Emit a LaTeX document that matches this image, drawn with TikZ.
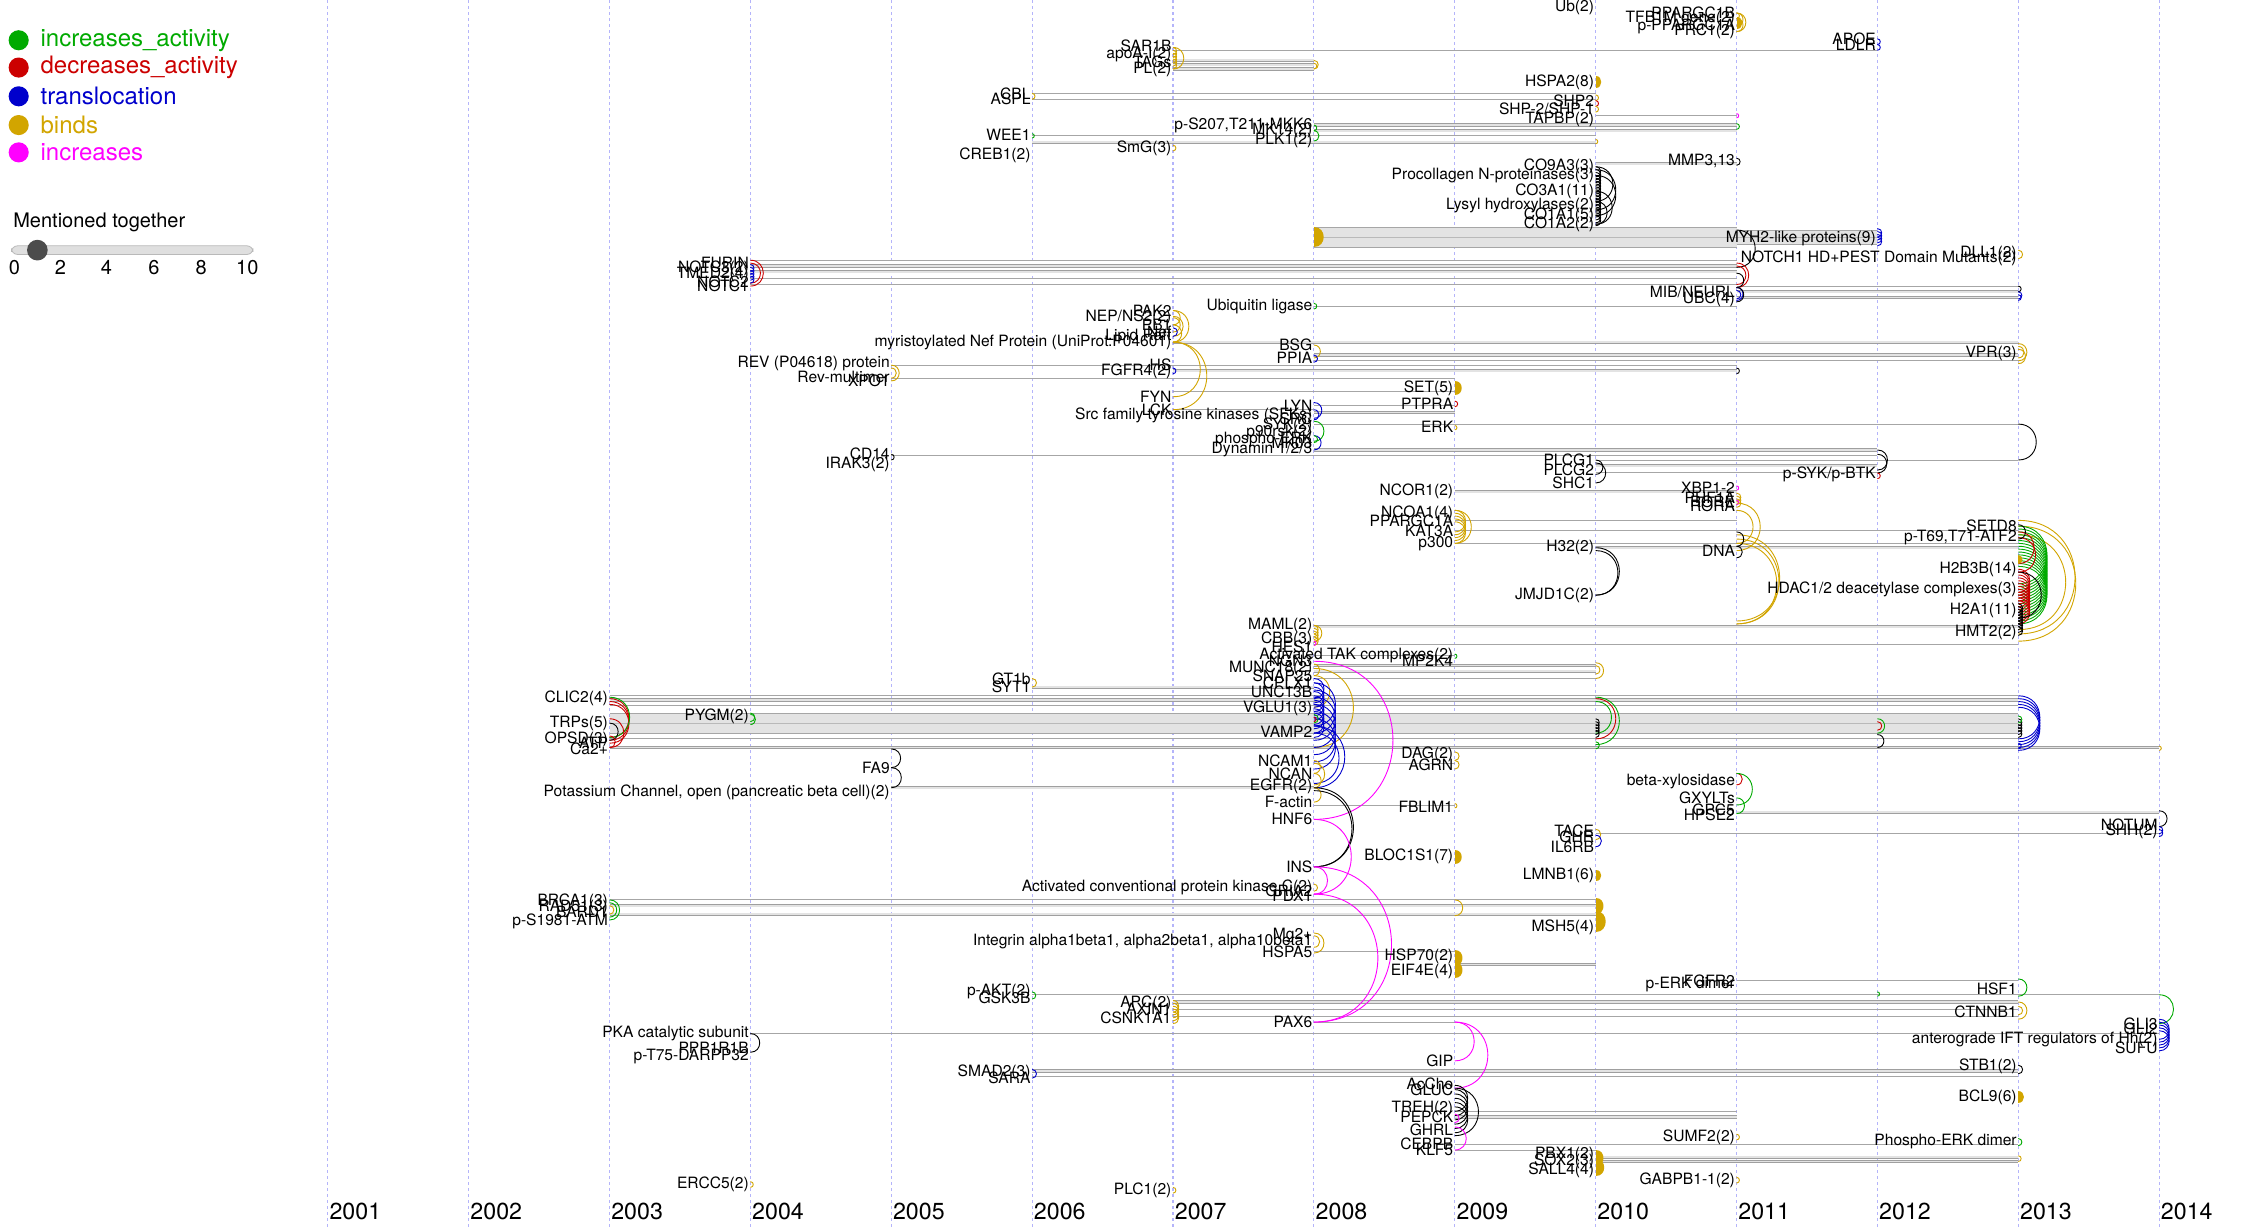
\documentclass[tikz,border=0pt]{standalone}
\usepackage{fontspec}
\setmainfont{TeX Gyre Heros}
\definecolor{cgreen}{RGB}{0,170,0}
\definecolor{cred}{RGB}{204,0,0}
\definecolor{cblue}{RGB}{0,0,204}
\definecolor{cgold}{RGB}{210,165,0}
\definecolor{cmag}{RGB}{255,0,255}
\definecolor{gridc}{RGB}{180,180,250}
\newcounter{nd}
\newcommand\Lb[3]{\stepcounter{nd}\node[lbl] (n\arabic{nd}) at (#1,#2) {#3};}
\newcommand\Ln[3]{\draw[hl] (#1,#3) -- (#2,#3);}
\newcommand\Lt[3]{\draw[tl] (#1,#3) -- (#2,#3);}
\newcommand\Band[4]{\fill[gray!22] (#1,#3) rectangle (#2,#4);
  \foreach \yy in {#3,#4} {\draw[tl] (#1,\yy) -- (#2,\yy);}
  \pgfmathsetmacro\ym{(#3+#4)/2}\draw[tl,gray!55] (#1,\ym) -- (#2,\ym);}
\newcommand\Ar[4]{\pgfmathsetmacro\kk{0.6667*abs((#4)-(#3))}\draw[arcst,#1] (#2,#3) .. controls +(\kk,0) and +(\kk,0) .. (#2,#4);}
\newcommand\Af[4]{\pgfmathsetmacro\kk{0.6667*abs((#4)-(#3))}\fill[#1] (#2,#3) .. controls +(\kk,0) and +(\kk,0) .. (#2,#4) -- cycle;}
\begin{document}
\begin{tikzpicture}[x=0.71875pt,y=-0.71875pt,
  lbl/.style={anchor=east,inner sep=0.6pt,font=\fontsize{7.8}{8}\selectfont},
  hl/.style={draw=gray!75,double=gray!22,double distance=0.9pt,line width=0.35pt},
  tl/.style={draw=gray!70,line width=0.45pt},
  arcst/.style={line width=0.45pt},
  gridl/.style={gridc,line width=0.6pt,dash pattern=on 1.4pt off 1.6pt},
  yearl/.style={anchor=west,inner sep=0pt,font=\fontsize{11.6}{12}\selectfont},
  legt/.style={anchor=west,inner sep=0pt,font=\fontsize{12}{12}\selectfont}]
\fill[white] (0,0) rectangle (1568,854);
\useasboundingbox (0,0) rectangle (1568,854);
% grid and years
\foreach \yr [count=\i from 0] in {2001,...,2014} {
  \pgfmathsetmacro\gx{228+98*\i}
  \draw[gridl] (\gx,0) -- (\gx,854);
  \node[yearl] (y\yr) at (\gx+1,843) {\yr};
}
% legend
\foreach \c/\t/\yy [count=\i] in {cgreen/increases\_activity/28,cred/decreases\_activity/47,cblue/translocation/67,cgold/binds/87,cmag/increases/106} {
  \fill[\c] (13,\yy) circle (7);
  \node[legt,text=\c] (lg\i) at (28,\yy) {\t};
}
\node[anchor=west,inner sep=0pt,font=\fontsize{10}{10}\selectfont] (mt) at (9,155) {Mentioned together};
\draw[gray!55,fill=gray!25,rounded corners=3] (8,171) rectangle (176,177);
\fill[gray!60!black] (26,174) circle (7.2);
\foreach \v/\xx in {0/10,2/42,4/74,6/107,8/140,10/172}
  \node[font=\fontsize{10}{10}\selectfont,inner sep=0pt] (sl\v) at (\xx,186) {\v};

% ---------- horizontal lines ----------
\Lt{816}{1306}{35}
\Ln{816}{914}{42}\Ln{816}{914}{45}\Ln{816}{914}{48}
\Lt{718}{1110}{65}\Lt{718}{1110}{69}
\Lt{1110}{1208}{80}
\Ln{914}{1208}{87}\Ln{914}{1208}{91}
\Lt{718}{1110}{94}\Ln{718}{1110}{99}
\Ln{1110}{1208}{114}
\Band{914}{1208}{158}{172}\Band{1208}{1306}{160}{170}
\Lt{522}{1208}{181}\Ln{522}{1208}{185}\Ln{522}{1208}{189}\Lt{522}{1208}{194}\Lt{522}{1208}{198}
\Lt{1208}{1404}{199}\Ln{1208}{1404}{203}\Ln{1208}{1404}{207}
\Lt{914}{1208}{213}
\Ln{816}{1404}{238}\Ln{914}{1404}{247}\Lt{914}{1404}{251}
\Lt{620}{1208}{254}\Ln{816}{1208}{258}\Lt{620}{1012}{263}
\Lt{816}{1012}{272}\Lt{816}{914}{285}\Lt{914}{1012}{282}\Ln{914}{1012}{287}
\Lt{914}{1404}{295}
\Ln{914}{1306}{313}\Lt{620}{1306}{317}\Lt{1110}{1404}{320}
\Ln{1110}{1306}{324}\Lt{1110}{1306}{329}
\Ln{1012}{1208}{342}\Lt{1012}{1208}{362}\Lt{1012}{1404}{369}\Lt{1012}{1404}{378}\Ln{1110}{1404}{381}
\Ln{914}{1404}{436}\Lt{914}{1404}{448}
\Lt{914}{1012}{456}\Ln{914}{1110}{463}\Ln{914}{1110}{467}\Lt{914}{1110}{472}
\Ln{718}{914}{478}
\Lt{424}{1404}{484}\Ln{424}{1404}{487}\Lt{424}{1404}{491}
\Band{424}{1404}{496}{510}
\Lt{424}{1404}{514}\Ln{424}{1502}{520}
\Lt{914}{1012}{531}
\Ln{620}{914}{548}
\Lt{914}{1012}{560}
\Ln{1208}{1502}{565}
\Lt{1110}{1502}{580}
\Lt{424}{1110}{626}\Ln{424}{1110}{630}\Ln{424}{1110}{636}
\Lt{914}{1012}{662}\Ln{1012}{1110}{671}
\Lt{1208}{1404}{682}
\Lt{718}{1502}{692}\Ln{816}{1404}{697}\Lt{816}{1404}{702}\Lt{816}{1404}{707}
\Lt{914}{1012}{711}\Lt{522}{1502}{719}
\Ln{718}{1404}{745}\Lt{718}{1404}{749}
\Lt{1012}{1208}{773}\Ln{1012}{1208}{777}
\Lt{1012}{1404}{796}\Lt{1012}{1110}{800}
\Ln{1110}{1404}{805}\Ln{1110}{1404}{808}

% ---------- arcs ----------
% top
\Ar{cgold}{1208}{9}{13}\Ar{cgold}{1208}{9}{18}\Ar{cgold}{1208}{13}{22}\Ar{cgold}{1208}{9}{22}\Af{cgold}{1208}{12}{20}
\Ar{cblue}{1306}{27}{31}\Ar{cblue}{1306}{31}{35}
\foreach \a in {33,35,...,43} {\Ar{cgold}{816}{\a}{\a+5}}
\Ar{cgold}{816}{33}{48}
\Ar{cgold}{914}{42}{48}\Ar{cgold}{914}{44}{48}
\Af{cgold}{1110}{53}{61}
\Ar{cgold}{1110}{66}{70}\Ar{cred}{1110}{70}{74}\Ar{cgold}{1110}{74}{78}
\Ar{cgold}{718}{65}{69}
\Ar{cgreen}{914}{87}{91}\Ar{cgreen}{914}{91}{98}
\Ar{cmag}{1208}{79}{82}\Ar{cgreen}{1208}{86}{90}
\Ar{cgold}{1110}{97}{100}
\Ar{cgreen}{718}{93}{96}
\Ar{cgold}{816}{101}{105}
\Ar{black}{1208}{110}{115}
\foreach \a in {116,118,...,150} {\Ar{black}{1110}{\a}{\a+7}}
\Ar{black}{1110}{116}{140}\Ar{black}{1110}{118}{146}\Ar{black}{1110}{122}{150}\Ar{black}{1110}{133}{156}\Ar{black}{1110}{140}{156}
\Af{cgold}{914}{158}{172}
\foreach \a in {159,161,...,165} {\Ar{cblue}{1306}{\a}{\a+6}}
\Ar{black}{1208}{160}{186}
\Ar{cgold}{1404}{174}{180}
\Ar{cred}{522}{181}{199}\Ar{cred}{522}{183}{197}
\foreach \a in {184,186,...,192} {\Ar{cblue}{522}{\a}{\a+5}}
\Ar{cred}{1208}{183}{200}\Ar{cred}{1208}{185}{198}\Ar{black}{1208}{190}{200}
\Ar{black}{1404}{199}{203}\Ar{cblue}{1404}{203}{208}\Ar{cblue}{1404}{205}{209}
\Ar{cblue}{1208}{200}{209}\Ar{cblue}{1208}{202}{208}\Ar{black}{1208}{200}{210}
\Ar{cgreen}{914}{211}{215}
% Nef cluster
\Ar{cgold}{816}{216}{238}\Ar{cgold}{816}{220}{234}\Ar{cgold}{816}{226}{238}\Ar{cgold}{816}{216}{226}\Ar{cgold}{816}{221}{231}
\Ar{cblue}{816}{228}{234}
\Ar{cgold}{816}{238}{276}\Ar{cgold}{816}{238}{285}
\Ar{cgold}{914}{240}{249}\Ar{cblue}{914}{247}{252}
\Ar{cgold}{1404}{239}{251}\Ar{cgold}{1404}{241}{249}\Ar{cgold}{1404}{243}{253}
\Ar{cgold}{620}{254}{265}\Ar{cgold}{620}{256}{263}
\Ar{cblue}{816}{256}{260}
\Ar{black}{1208}{256}{260}
\Af{cgold}{1012}{265}{275}\Ar{cred}{1012}{279}{283}
\Ar{cblue}{914}{280}{291}\Ar{cblue}{914}{285}{292}\Ar{cgreen}{914}{293}{307}\Ar{cblue}{914}{303}{313}\Ar{cgreen}{914}{303}{308}
\Ar{cgold}{1012}{296}{299}
\Ar{black}{1404}{295}{320}
\Ar{black}{620}{316}{320}
\Ar{black}{1306}{313}{327}\Ar{black}{1306}{316}{329}\Ar{cred}{1306}{329}{333}
\Ar{black}{1110}{320}{330}\Ar{black}{1110}{322}{336}
% ~2011 nuclear receptor / DNA
\Ar{cmag}{1208}{338}{341}
\foreach \a in {343,345,347} {\Ar{cgold}{1208}{\a}{\a+6}}
\Ar{cmag}{1208}{348}{351}
\foreach \a in {355,357,...,363} {\Ar{cgold}{1012}{\a}{\a+15}}
\Ar{cgold}{1012}{355}{378}
\Ar{cgold}{1208}{350}{383}\Ar{cgold}{1208}{355}{378}
\Ar{cgold}{1208}{375}{434}\Ar{cgold}{1208}{378}{434}\Ar{cgold}{1208}{372}{432}
\Ar{black}{1208}{370}{380}\Ar{black}{1208}{380}{388}
\Ar{black}{1110}{381}{414}\Ar{black}{1110}{383}{414}
% 2013 histone cluster
\Ar{cgold}{1404}{362}{441}\Ar{cgold}{1404}{366}{446}\Ar{cgold}{1404}{372}{438}
\foreach \a in {366,368,...,394} {\Ar{cgreen}{1404}{\a}{\a+40}}
\foreach \a in {396,398,...,418} {\Ar{cred}{1404}{\a}{\a+16}}
\Ar{cred}{1404}{370}{392}\Ar{cred}{1404}{374}{398}
\Ar{black}{1404}{365}{375}\Ar{black}{1404}{398}{430}
\foreach \a in {420,422,...,436} {\Ar{black}{1404}{\a}{\a+6}}
\Af{cgold}{1404}{386}{392}
% 2008 synapse cluster
\foreach \a in {435,437,...,443} {\Ar{cgold}{914}{\a}{\a+6}}
\Ar{cgold}{914}{435}{446}
\Ar{cmag}{914}{446}{449}
\Ar{cgreen}{1012}{455}{458}
\Ar{cgold}{914}{462}{470}\Ar{cgold}{914}{465}{520}\Ar{cgold}{914}{470}{492}
\Ar{cgold}{1110}{461}{472}\Ar{cgold}{1110}{463}{469}
\foreach \a in {472,475,...,499} {\Ar{cblue}{914}{\a}{\a+14}}
\foreach \a in {475,480,...,505} {\Ar{cblue}{914}{\a}{\a+30}}
\Ar{cblue}{914}{505}{548}\Ar{cblue}{914}{510}{545}
\Ar{cgreen}{914}{497}{503}\Ar{cred}{914}{499}{502}
\Ar{cgold}{914}{529}{538}\Ar{cgold}{914}{538}{548}\Ar{cgold}{914}{548}{558}\Ar{cgold}{914}{531}{546}
\Ar{cmag}{914}{460}{570}
\Ar{black}{914}{548}{603}\Ar{black}{914}{550}{603}
\Ar{cmag}{914}{570}{622}\Ar{cmag}{914}{603}{622}\Ar{cmag}{914}{603}{711}\Ar{cmag}{914}{622}{711}
\Ar{cgold}{914}{615}{620}
% 2003-2005 middle
\foreach \a in {486,488,490} {\Ar{cred}{424}{\a}{\a+27}}
\Ar{cgreen}{424}{485}{513}\Ar{cred}{424}{500}{520}\Ar{black}{424}{503}{515}\Ar{cred}{424}{512}{520}
\Ar{cgreen}{522}{496}{502}\Ar{cgreen}{522}{497}{504}
\Ar{cgold}{718}{472}{478}
\Ar{black}{620}{521}{534}\Ar{black}{620}{534}{548}
\Ar{cgreen}{424}{626}{640}\Ar{cgreen}{424}{628}{638}\Ar{cgold}{424}{630}{636}
% CLIC band ends
\Ar{cgreen}{1110}{485}{518}\Ar{cred}{1110}{486}{514}\Ar{cgreen}{1110}{488}{510}
\foreach \a in {500,502,...,508} {\Ar{black}{1110}{\a}{\a+5}}
\Ar{cgreen}{1110}{516}{521}
\Ar{cgreen}{1306}{500}{510}\Ar{cred}{1306}{502}{508}\Ar{black}{1306}{511}{520}
\foreach \a in {484,486,...,492} {\Ar{cblue}{1404}{\a}{\a+30}}
\foreach \a in {500,502,...,508} {\Ar{black}{1404}{\a}{\a+5}}
\Ar{cgreen}{1404}{498}{503}\Ar{cblue}{1404}{517}{521}
\Ar{cgold}{1502}{519}{522}
% 2009-2011 middle
\Ar{cgold}{1012}{523}{529}\Ar{cgold}{1012}{529}{535}
\Ar{cgold}{1012}{559}{562}
\Af{cgold}{1012}{591}{601}
\Ar{cred}{1208}{538}{546}\Ar{cgreen}{1208}{538}{560}\Ar{cgreen}{1208}{555}{566}
\Ar{cgold}{1110}{577}{584}\Ar{cblue}{1110}{581}{589}
\Ar{black}{1502}{564}{575}\Ar{cblue}{1502}{575}{580}\Ar{cblue}{1502}{577}{582}
\Af{cgold}{1110}{605}{613}
\Af{cgold}{1110}{625}{636}\Af{cgold}{1110}{634}{648}
\Ar{cgold}{1012}{626}{637}
\Ar{cgold}{914}{649}{663}\Ar{cgold}{914}{651}{659}
\Af{cgold}{1012}{661}{672}\Af{cgold}{1012}{669}{680}
% lower right
\Ar{cgreen}{1306}{690}{693}
\Ar{cgreen}{1404}{681}{693}
\Ar{cgreen}{1502}{692}{712}
\Ar{cgold}{1404}{697}{709}\Ar{cgold}{1404}{700}{706}
\foreach \a in {709,711,...,717} {\Ar{cblue}{1502}{\a}{\a+14}}
\foreach \a in {696,698,...,704} {\Ar{cgold}{816}{\a}{\a+8}}
\Ar{cgreen}{718}{690}{695}
\Ar{black}{522}{719}{732}
\Ar{cmag}{1012}{711}{738}\Ar{cmag}{1012}{711}{757}
\Ar{cblue}{718}{744}{750}
\Ar{black}{1404}{741}{747}
\Af{cgold}{1404}{759}{767}
\foreach \a in {755,758,...,770} {\Ar{black}{1012}{\a}{\a+18}}
\Ar{black}{1012}{757}{790}
\Ar{cmag}{1012}{775}{781}\Ar{cmag}{1012}{784}{800}
\Ar{cgold}{1208}{789}{793}\Ar{cgold}{1208}{819}{823}
\Af{cgold}{1110}{800}{811}\Af{cgold}{1110}{806}{818}
\Ar{cgreen}{1404}{792}{797}
\Ar{cgold}{1404}{804}{808}
\Ar{cgold}{522}{822}{826}\Ar{cgold}{816}{826}{830}

% ---------- labels ----------
% 2003
\Lb{424}{486}{CLIC2(4)}\Lb{424}{503}{TRPs(5)}\Lb{424}{514}{OPSD(3)}\Lb{424}{517}{ATP}\Lb{424}{521}{Ca2+}
\Lb{424}{627}{BRCA1(3)}\Lb{424}{631}{RAD51(3)}\Lb{424}{634}{BARD1}\Lb{424}{641}{p-S1981-ATM}
% 2004
\Lb{522}{183}{FURIN}\Lb{522}{187}{NOTC3(2)}\Lb{522}{191}{TMED2(4)}\Lb{522}{196}{NOTC2}\Lb{522}{199}{NOTC1}
\Lb{522}{498}{PYGM(2)}
\Lb{522}{719}{PKA catalytic subunit}\Lb{522}{729}{PPP1R1B}\Lb{522}{735}{p-T75-DARPP32}
\Lb{522}{824}{ERCC5(2)}
% 2005
\Lb{620}{253}{REV (P04618) protein}\Lb{620}{262}{Rev-multimer}\Lb{620}{265}{XPO1}
\Lb{620}{316}{CD14}\Lb{620}{323}{IRAK3(2)}
\Lb{620}{534}{FA9}\Lb{620}{551}{Potassium Channel, open (pancreatic beta cell)(2)}
% 2006
\Lb{718}{65}{CBL}\Lb{718}{69}{ASPL}\Lb{718}{94}{WEE1}\Lb{718}{108}{CREB1(2)}
\Lb{718}{472}{GT1b}\Lb{718}{478}{SYT1}
\Lb{718}{690}{p-AKT(2)}\Lb{718}{694}{GSK3B}
\Lb{718}{746}{SMAD2(3)}\Lb{718}{750}{SARA}
% 2007
\Lb{816}{32}{SAR1B}\Lb{816}{38}{apoA-I(2)}\Lb{816}{43}{TAGs}\Lb{816}{48}{PL(2)}
\Lb{816}{103}{SmG(3)}
\Lb{816}{216}{PAK2}\Lb{816}{221}{NEP/NS2(2)}\Lb{816}{226}{PB1}\Lb{816}{231}{Nef}\Lb{816}{234}{Lipid Raft}
\Lb{816}{238}{myristoylated Nef Protein (UniProt:P04601)}
\Lb{816}{254}{HS}\Lb{816}{258}{FGFR4(2)}\Lb{816}{276}{FYN}\Lb{816}{285}{LCK}
\Lb{816}{698}{APC(2)}\Lb{816}{702}{AXIN1}\Lb{816}{708}{CSNK1A1}
\Lb{816}{828}{PLC1(2)}
% 2008
\Lb{914}{87}{p-S207,T211-MKK6}\Lb{914}{91}{MK14(2)}\Lb{914}{98}{PLK1(2)}
\Lb{914}{213}{Ubiquitin ligase}
\Lb{914}{240}{BSG}\Lb{914}{249}{PPIA}
\Lb{914}{282}{LYN}\Lb{914}{289}{Src family tyrosine kinases (SFKs)}\Lb{914}{291}{SRC}\Lb{914}{296}{SYK(2)}
\Lb{914}{301}{p90rsk(2)}\Lb{914}{306}{phospho-ERK}\Lb{914}{308}{MK03}\Lb{914}{313}{Dynamin 1/2/3}
\Lb{914}{435}{MAML(2)}\Lb{914}{445}{CBB(3)}\Lb{914}{450}{HES1}\Lb{914}{460}{NGN3}\Lb{914}{465}{MUNC18(2)}
\Lb{914}{470}{SNAP25}\Lb{914}{475}{CPLX1}\Lb{914}{481}{UNC13B}\Lb{914}{493}{VGLU1(3)}\Lb{914}{509}{VAMP2}
\Lb{914}{529}{NCAM1}\Lb{914}{538}{NCAN}\Lb{914}{547}{EGFR(2)}\Lb{914}{558}{F-actin}\Lb{914}{570}{HNF6}
\Lb{914}{603}{INS}\Lb{914}{617}{Activated conventional protein kinase C(2)}\Lb{914}{620}{GRIA2}\Lb{914}{623}{PDX1}
\Lb{914}{651}{Mg2+}\Lb{914}{655}{Integrin alpha1beta1, alpha2beta1, alpha10beta1}\Lb{914}{662}{HSPA5}
\Lb{914}{711}{PAX6}
% 2009
\Lb{1012}{270}{SET(5)}\Lb{1012}{281}{PTPRA}\Lb{1012}{297}{ERK}
\Lb{1012}{342}{NCOR1(2)}\Lb{1012}{357}{NCOA1(4)}\Lb{1012}{362}{PPARGC1A}\Lb{1012}{369}{KAT3A}\Lb{1012}{378}{p300}
\Lb{1012}{456}{Activated TAK complexes(2)}\Lb{1012}{460}{MP2K4}
\Lb{1012}{525}{DAG(2)}\Lb{1012}{532}{AGRN}\Lb{1012}{561}{FBLIM1}\Lb{1012}{596}{BLOC1S1(7)}
\Lb{1012}{665}{HSP70(2)}\Lb{1012}{676}{EIF4E(4)}
\Lb{1012}{738}{GIP}\Lb{1012}{754}{AcCho}\Lb{1012}{758}{GLUC}\Lb{1012}{771}{TREH(2)}\Lb{1012}{777}{PEPCK}
\Lb{1012}{786}{GHRL}\Lb{1012}{796}{CEBPB}\Lb{1012}{800}{KLF5}
% 2010
\Lb{1110}{5}{Ub(2)}\Lb{1110}{57}{HSPA2(8)}\Lb{1110}{70}{SHP2}\Lb{1110}{76}{SHP-2/SHP-1}\Lb{1110}{83}{TAPBP(2)}
\Lb{1110}{116}{CO9A3(3)}\Lb{1110}{122}{Procollagen N-proteinases(3)}\Lb{1110}{133}{CO3A1(11)}
\Lb{1110}{143}{Lysyl hydroxylases(2)}\Lb{1110}{150}{CO1A1(5)}\Lb{1110}{156}{CO1A2(2)}
\Lb{1110}{320}{PLCG1}\Lb{1110}{327}{PLCG2}\Lb{1110}{336}{SHC1}
\Lb{1110}{381}{H32(2)}\Lb{1110}{414}{JMJD1C(2)}
\Lb{1110}{578}{TACE}\Lb{1110}{582}{GHR}\Lb{1110}{589}{IL6RB}
\Lb{1110}{609}{LMNB1(6)}\Lb{1110}{645}{MSH5(4)}
\Lb{1110}{803}{PBX1(2)}\Lb{1110}{808}{SOX2(3)}\Lb{1110}{814}{SALL4(4)}
% 2011
\Lb{1208}{9}{PPARGC1B}\Lb{1208}{13}{TFB1M gene(2)}\Lb{1208}{18}{p-PPARGC1A}\Lb{1208}{22}{PRC1(2)}
\Lb{1208}{112}{MMP3,13}
\Lb{1208}{203}{MIB/NEURL}\Lb{1208}{208}{UBC(4)}
\Lb{1208}{339}{XBP1-2}\Lb{1208}{346}{PHF1A}\Lb{1208}{349}{RORE}\Lb{1208}{352}{RORA}\Lb{1208}{383}{DNA}
\Lb{1208}{544}{beta-xylosidase}\Lb{1208}{555}{GXYLTs}\Lb{1208}{563}{GPC5}\Lb{1208}{567}{HPSE2}
\Lb{1208}{682}{FGFR2}\Lb{1208}{685}{p-ERK dimer}
\Lb{1208}{791}{SUMF2(2)}\Lb{1208}{821}{GABPB1-1(2)}
% 2012
\Lb{1306}{27}{APOE}\Lb{1306}{31}{LDLR}\Lb{1306}{166}{MYH2-like proteins(9)}\Lb{1306}{330}{p-SYK/p-BTK}
% 2013
\Lb{1404}{176}{DLL1(2)}\Lb{1404}{180}{NOTCH1 HD+PEST Domain Mutants(2)}\Lb{1404}{246}{VPR(3)}
\Lb{1404}{366}{SETD8}\Lb{1404}{374}{p-T69,T71-ATF2}\Lb{1404}{396}{H2B3B(14)}
\Lb{1404}{410}{HDAC1/2 deacetylase complexes(3)}\Lb{1404}{425}{H2A1(11)}\Lb{1404}{440}{HMT2(2)}
\Lb{1404}{688}{HSF1}\Lb{1404}{704}{CTNNB1}\Lb{1404}{742}{STB1(2)}\Lb{1404}{763}{BCL9(6)}
\Lb{1404}{794}{Phospho-ERK dimer}
% 2014
\Lb{1502}{574}{NOTUM}\Lb{1502}{578}{SHH(2)}
\Lb{1502}{712}{GLI3}\Lb{1502}{716}{GLI2}\Lb{1502}{723}{anterograde IFT regulators of Hh(2)}\Lb{1502}{729}{SUFU}
\end{tikzpicture}
\end{document}
